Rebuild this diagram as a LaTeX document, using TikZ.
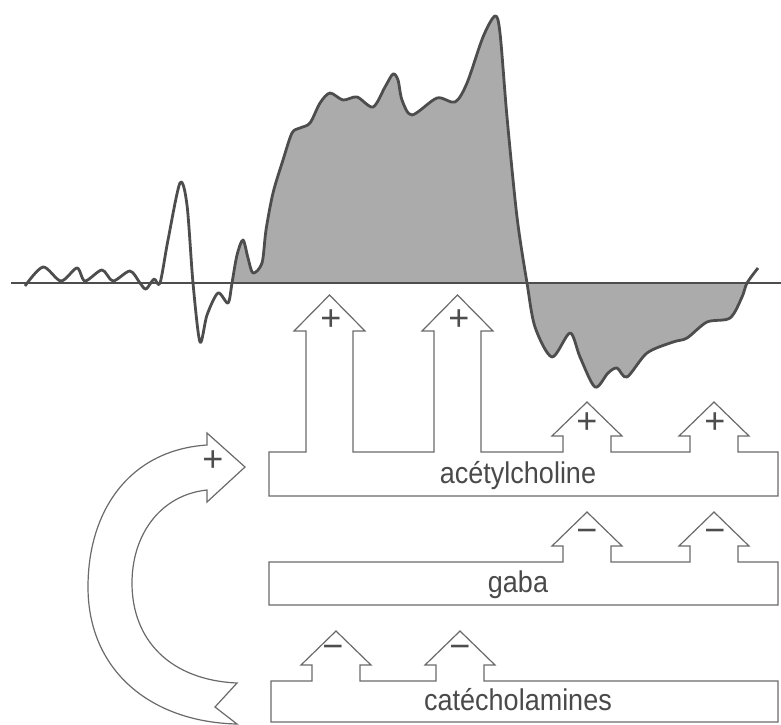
\documentclass[tikz,border=0pt]{standalone}
\usepackage{fontspec}
\setmainfont{Liberation Sans}
\newfontfamily\etroite{Liberation Sans}[FakeStretch=0.9]

\definecolor{trait}{HTML}{6A6A6A}
\definecolor{courbe}{HTML}{4D4D4D}
\definecolor{aire}{HTML}{ABABAB}
\definecolor{texte}{HTML}{4A4A4A}

\tikzset{
	bord/.style={draw=trait, line width=1.2pt, fill=white},
	signe/.style={text=courbe, font=\fontsize{36}{36}\selectfont, inner sep=0pt, text height=0.7em, text depth=0pt},
	nom/.style={text=texte, font=\etroite\fontsize{30}{32}\selectfont, inner sep=0pt, anchor=base},
	petite/.style={insert path={-- ++(0,-16) -- ++(-11,0) -- ++(35,-34) -- ++(35,34) -- ++(-11,0) -- ++(0,16)}},
	grande/.style={insert path={-- ++(0,-121) -- ++(-12,0) -- ++(35.5,-36) -- ++(35.5,36) -- ++(-12,0) -- ++(0,121)}}
}

\newcommand{\vague}{plot[smooth, tension=0.5] coordinates {
	(25,286) (43,267) (61,281) (77,268) (85,281) (102,270) (113,281) (130,271)
	(140,283) (146,289) (154,279) (160,283) (168,240) (180,183) (187,205) (193,283)
	(200,342) (207,315) (218,293) (228,303) (232,283) (237,255) (243,240) (248,258)
	(253,273) (262,263) (266,230) (273,193) (283,160) (292,133) (300,128) (310,123)
	(320,103) (330,93) (343,100) (357,97) (373,107) (385,87) (393,74) (398,80)
	(402,100) (412,115) (437,98) (455,102) (467,83) (483,37) (495,16) (500,33)
	(507,117) (517,217) (527,283) (535,327) (552,357) (570,333) (580,357) (595,387)
	(608,373) (617,368) (627,377) (647,353) (673,342) (687,338) (707,322) (730,318)
	(742,297) (747,283) (758,268)}}

\begin{document}
\begin{tikzpicture}[x=1pt, y=-1pt]

		\useasboundingbox (0,0) rectangle (781,724);

		% aire grise entre la courbe et la ligne de base
		\begin{scope}
			\clip (232,0) rectangle (748,724);
			\fill[aire] \vague -- (758,283) -- (25,283) -- cycle;
		\end{scope}

		\draw[courbe, line width=1.2pt] (11,283) -- (781,283);
		\draw[courbe, line width=2.8pt, line join=round] \vague;

		% fleche courbe
		\draw[bord] (207,445) -- (207,433) -- (245,467) -- (207,502) -- (207,490)
			.. controls (160,495) and (132,535) .. (132,583)
			.. controls (132,640) and (170,680) .. (237,683)
			-- (215,707) -- (237,724)
			.. controls (150,722) and (88,670) .. (88,587)
			.. controls (88,510) and (130,450) .. (207,445) -- cycle;

		\draw[bord] (269,496) -- (269,452) -- (306,452) [grande] -- (434,452) [grande]
			-- (563,452) [petite] -- (690,452) [petite] -- (778,452) -- (778,496) -- cycle;
		\draw[bord] (269,605) -- (269,562) -- (563,562) [petite] -- (690,562) [petite]
			-- (778,562) -- (778,605) -- cycle;
		\draw[bord] (271,722) -- (271,681) -- (312,681) [petite] -- (436,681) [petite]
			-- (778,681) -- (778,722) -- cycle;

		\node[nom] (acetyl) at (518,483) {acétylcholine};
		\node[nom] (gaba) at (518,592) {gaba};
		\node[nom] (catechol) at (518,710) {catécholamines};

		\foreach \x/\y [count=\i] in {331/327, 459/327, 587/430, 715/430, 213/468}
		{
			\node[signe] (plus\i) at (\x,\y) {+};
		}
		\foreach \x/\y [count=\i] in {587/539, 715/539, 333/655, 460/655}
		{
			\node[signe] (moins\i) at (\x,\y) {−};
		}
\end{tikzpicture}
\end{document}
